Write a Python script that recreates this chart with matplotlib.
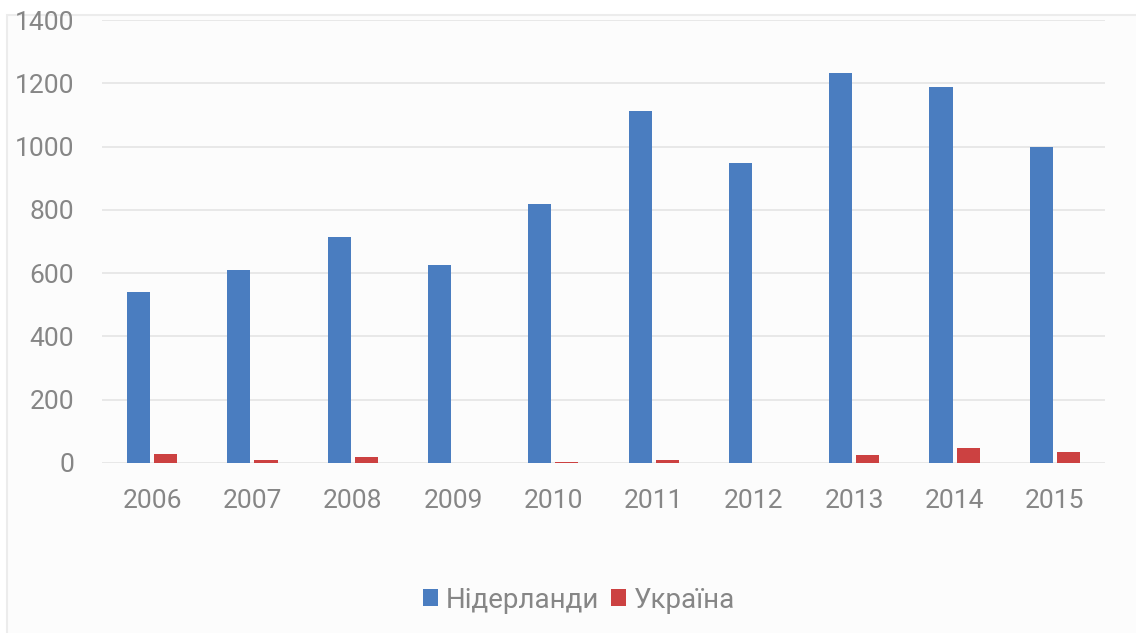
import numpy as np
import matplotlib.pyplot as plt
from matplotlib.patches import Rectangle

# Дані з графіка
years = ["2006", "2007", "2008", "2009", "2010", "2011", "2012", "2013", "2014", "2015"]
netherlands = [540, 610, 714, 625, 818, 1112, 948, 1232, 1188, 998]
ukraine = [28, 10, 19, 0, 3, 10, 0, 25, 47, 35]
series_names = ["Нідерланди", "Україна"]
yticks = [0, 200, 400, 600, 800, 1000, 1200, 1400]

blue = "#4a7dc0"
red = "#cc4141"
text_col = "#868686"

plt.rcParams["font.family"] = ["Roboto", "DejaVu Sans"]

fig = plt.figure(figsize=(11.36, 6.33), dpi=100)

# світла рамка навколо області графіка
fig.patches.append(Rectangle((7 / 1136, -0.1), 1.2, 1 - 15 / 633 + 0.1,
                             transform=fig.transFigure, facecolor="#fcfcfc",
                             edgecolor="#ececec", linewidth=1.5, zorder=-1))

ax = fig.add_axes([102 / 1136, 1 - 463 / 633, 1003 / 1136, (463 - 20) / 633])
ax.set_facecolor("none")

x = np.arange(len(years))
w = 0.23
off = 0.135
ax.bar(x - off, netherlands, width=w, color=blue, label=series_names[0], zorder=3)
ax.bar(x + off, ukraine, width=w, color=red, label=series_names[1], zorder=3)

ax.set_xlim(-0.5, len(years) - 0.5)
ax.set_ylim(0, 1400)
ax.set_yticks(yticks)
ax.set_xticks(x)
ax.set_xticklabels(years)
ax.grid(axis="y", color="#e6e6e6", linewidth=1.3, zorder=0)
for s in ax.spines.values():
    s.set_visible(False)
ax.tick_params(axis="both", length=0, labelsize=19, colors=text_col)
ax.tick_params(axis="x", pad=19)
ax.tick_params(axis="y", pad=20)

fig.legend(loc="center", bbox_to_anchor=(579 / 1136, 1 - 600 / 633), ncol=2, frameon=False,
           fontsize=20, handlelength=0.55, handleheight=0.55, handletextpad=0.3,
           columnspacing=0.4, labelcolor=text_col)

fig.savefig("out.png", dpi=100)
